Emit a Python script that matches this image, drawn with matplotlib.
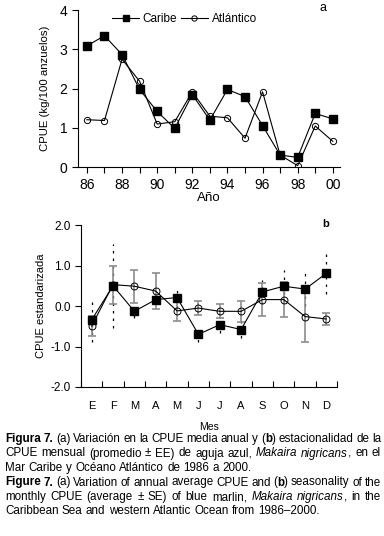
import matplotlib
matplotlib.use('Agg')
import matplotlib.pyplot as plt
from matplotlib import font_manager

fonts = {f.name for f in font_manager.fontManager.ttflist}
narrow = 'Liberation Sans Narrow' if 'Liberation Sans Narrow' in fonts else 'Liberation Sans'

plt.rcParams['font.family'] = ['Liberation Sans', 'DejaVu Sans']
plt.rcParams['axes.unicode_minus'] = False

# panel a: CPUE media anual
anios = list(range(86, 101))
etiquetas_anio = ['86', '', '88', '', '90', '', '92', '', '94', '', '96', '', '98', '', '00']
caribe_anual = [3.09, 3.35, 2.87, 1.98, 1.42, 0.99, 1.85, 1.20, 1.98, 1.80, 1.06, 0.31, 0.25, 1.37, 1.23]
atlantico_anual = [1.21, 1.19, 2.75, 2.19, 1.10, 1.16, 1.92, 1.30, 1.26, 0.74, 1.92, 0.31, 0.04, 1.05, 0.66]

# panel b: CPUE mensual estandarizada (promedio +- EE)
meses = ['E', 'F', 'M', 'A', 'M', 'J', 'J', 'A', 'S', 'O', 'N', 'D']
caribe_mes = [-0.34, 0.50, -0.13, 0.16, 0.21, -0.70, -0.46, -0.58, 0.35, 0.49, 0.42, 0.81]
caribe_ee = [0.55, 1.03, 0.17, 0.10, 0.26, 0.18, 0.20, 0.22, 0.30, 0.40, 0.43, 0.50]
atlantico_mes = [-0.49, 0.53, 0.49, 0.37, -0.12, -0.05, -0.13, -0.13, 0.16, 0.16, -0.26, -0.32]
atlantico_ee = [0.25, 0.47, 0.41, 0.44, 0.24, 0.18, 0.17, 0.26, 0.40, 0.44, 0.62, 0.15]

fig = plt.figure(figsize=(3.84, 5.36), dpi=100)

# ---- panel a
ax1 = fig.add_axes([0.203, 0.688, 0.682, 0.293])
ax1.plot(anios, caribe_anual, color='black', lw=0.8, marker='s', ms=5.5,
         mfc='black', mec='black', label='Caribe')
ax1.plot(anios, atlantico_anual, color='black', lw=0.8, marker='o', ms=4.5,
         mfc='none', mec='black', mew=0.7, label='Atlántico')
ax1.set_xlim(85.49, 100.4)
ax1.set_ylim(0, 4)
ax1.set_xticks(anios)
ax1.set_xticklabels(etiquetas_anio)
ax1.set_yticks([0, 1, 2, 3, 4])
ax1.tick_params(labelsize=10, length=4, width=0.8)
for s in ['top', 'right']:
    ax1.spines[s].set_visible(False)
ax1.set_ylabel('CPUE (kg/100 anzuelos)', fontsize=8.2, labelpad=7)
ax1.set_xlabel('Año', fontsize=9.5, labelpad=0)
ax1.legend(ncol=2, frameon=False, loc='upper left', bbox_to_anchor=(0.09, 1.05),
           fontsize=8.5, handlelength=2.3, handletextpad=0.3, columnspacing=0.3,
           markerscale=0.85)
fig.text(320 / 384, 1 - 8 / 536, 'a', fontsize=9, ha='left', va='center')

# ---- panel b
ax2 = fig.add_axes([0.211, 0.278, 0.667, 0.302])
xm = [i + 0.5 for i in range(len(meses))]
eb = ax2.errorbar(xm, caribe_mes, yerr=caribe_ee, fmt='none', ecolor='black',
                  elinewidth=0.9, capsize=0, zorder=2)
eb[2][0].set_linestyle((0, (2, 4)))
ax2.errorbar(xm, atlantico_mes, yerr=atlantico_ee, fmt='none', ecolor='#8c8c8c',
             elinewidth=1.2, capsize=3, capthick=1.2, zorder=2)
ax2.plot(xm, caribe_mes, color='black', lw=0.8, marker='s', ms=6,
         mfc='black', mec='black', zorder=3)
ax2.plot(xm, atlantico_mes, color='black', lw=0.8, marker='o', ms=5,
         mfc='none', mec='black', mew=0.7, zorder=4)
ax2.set_xlim(0, 12)
ax2.set_ylim(-2, 2)
ax2.set_yticks([-2, -1, 0, 1, 2])
ax2.set_yticklabels(['%.1f' % v for v in [-2, -1, 0, 1, 2]])
ax2.set_xticks(range(13))
ax2.set_xticklabels([])
ax2.tick_params(axis='x', direction='in', length=4, width=0.8)
ax2.set_xticks(xm, minor=True)
ax2.set_xticklabels(meses, minor=True)
ax2.tick_params(axis='x', which='minor', length=0, pad=10, labelsize=8)
ax2.tick_params(axis='y', labelsize=8.5, length=4, width=0.8)
for s in ['top', 'right']:
    ax2.spines[s].set_visible(False)
ax2.set_ylabel('CPUE estandarizada', fontsize=8, labelpad=3)
ax2.set_xlabel('Mes', fontsize=7.5, labelpad=8)
fig.text(322 / 384, 1 - 224 / 536, 'b', fontsize=8, ha='left', va='center',
         weight='bold')

# ---- caption, justified
caption = [
    ('*Figura* *7.* (a) Variación en la CPUE media anual y (*b*) estacionalidad de la', True),
    ('CPUE mensual (promedio ± EE) de aguja azul, _Makaira_ _nigricans_, en el', True),
    ('Mar Caribe y Océano Atlántico de 1986 a 2000.', False),
    ('*Figure* *7.* (a) Variation of annual average CPUE and (*b*) seasonality of the', True),
    ('monthly CPUE (average ± SE) of blue marlin, _Makaira_ _nigricans_, in the', True),
    ('Caribbean Sea and western Atlantic Ocean from 1986–2000.', False),
]
x0, x1 = 5, 381
y_first = 438
dy = 14.5

fig.canvas.draw()
rend = fig.canvas.get_renderer()


def segments(word):
    out = []
    cur = ''
    bold = False
    ital = False
    for ch in word:
        if ch in '*_':
            if cur:
                out.append((cur, bold, ital))
                cur = ''
            if ch == '*':
                bold = not bold
            else:
                ital = not ital
        else:
            cur += ch
    if cur:
        out.append((cur, bold, ital))
    return out


def make(txt, bold, ital, y, size):
    return fig.text(0, y, txt, fontsize=size, family=[narrow, 'DejaVu Sans'],
                    weight='bold' if bold else 'normal',
                    style='italic' if ital else 'normal', va='baseline')


def space_width(size):
    a = make(' x', False, False, 0, size)
    b = make('x', False, False, 0, size)
    w = a.get_window_extent(rend).width - b.get_window_extent(rend).width
    a.remove()
    b.remove()
    return w


def measure(size):
    # widest natural width of the justified lines
    sw = space_width(size)
    best = 0
    for line, just in caption:
        words = line.split(' ')
        tot = 0
        for w in words:
            for txt, b, it in segments(w):
                t = make(txt, b, it, 0, size)
                tot += t.get_window_extent(rend).width
                t.remove()
        tot += sw * 0.85 * (len(words) - 1)
        best = max(best, tot)
    return best


cap_size = 9.0
cap_size = cap_size * (x1 - x0) / measure(cap_size)
space_w = space_width(cap_size)

for i, (line, just) in enumerate(caption):
    y = 1 - (y_first + i * dy + 4) / 536
    words = []
    for w in line.split(' '):
        parts = []
        for txt, b, it in segments(w):
            t = make(txt, b, it, y, cap_size)
            parts.append((t, t.get_window_extent(rend).width))
        words.append(parts)
    widths = [sum(p[1] for p in w) for w in words]
    if just and len(words) > 1:
        gap = (x1 - x0 - sum(widths)) / (len(words) - 1)
    else:
        gap = space_w
    x = x0
    for w in words:
        for t, wd in w:
            t.set_x(x / 384)
            x += wd
        x += gap

fig.savefig('out.png', dpi=100)
